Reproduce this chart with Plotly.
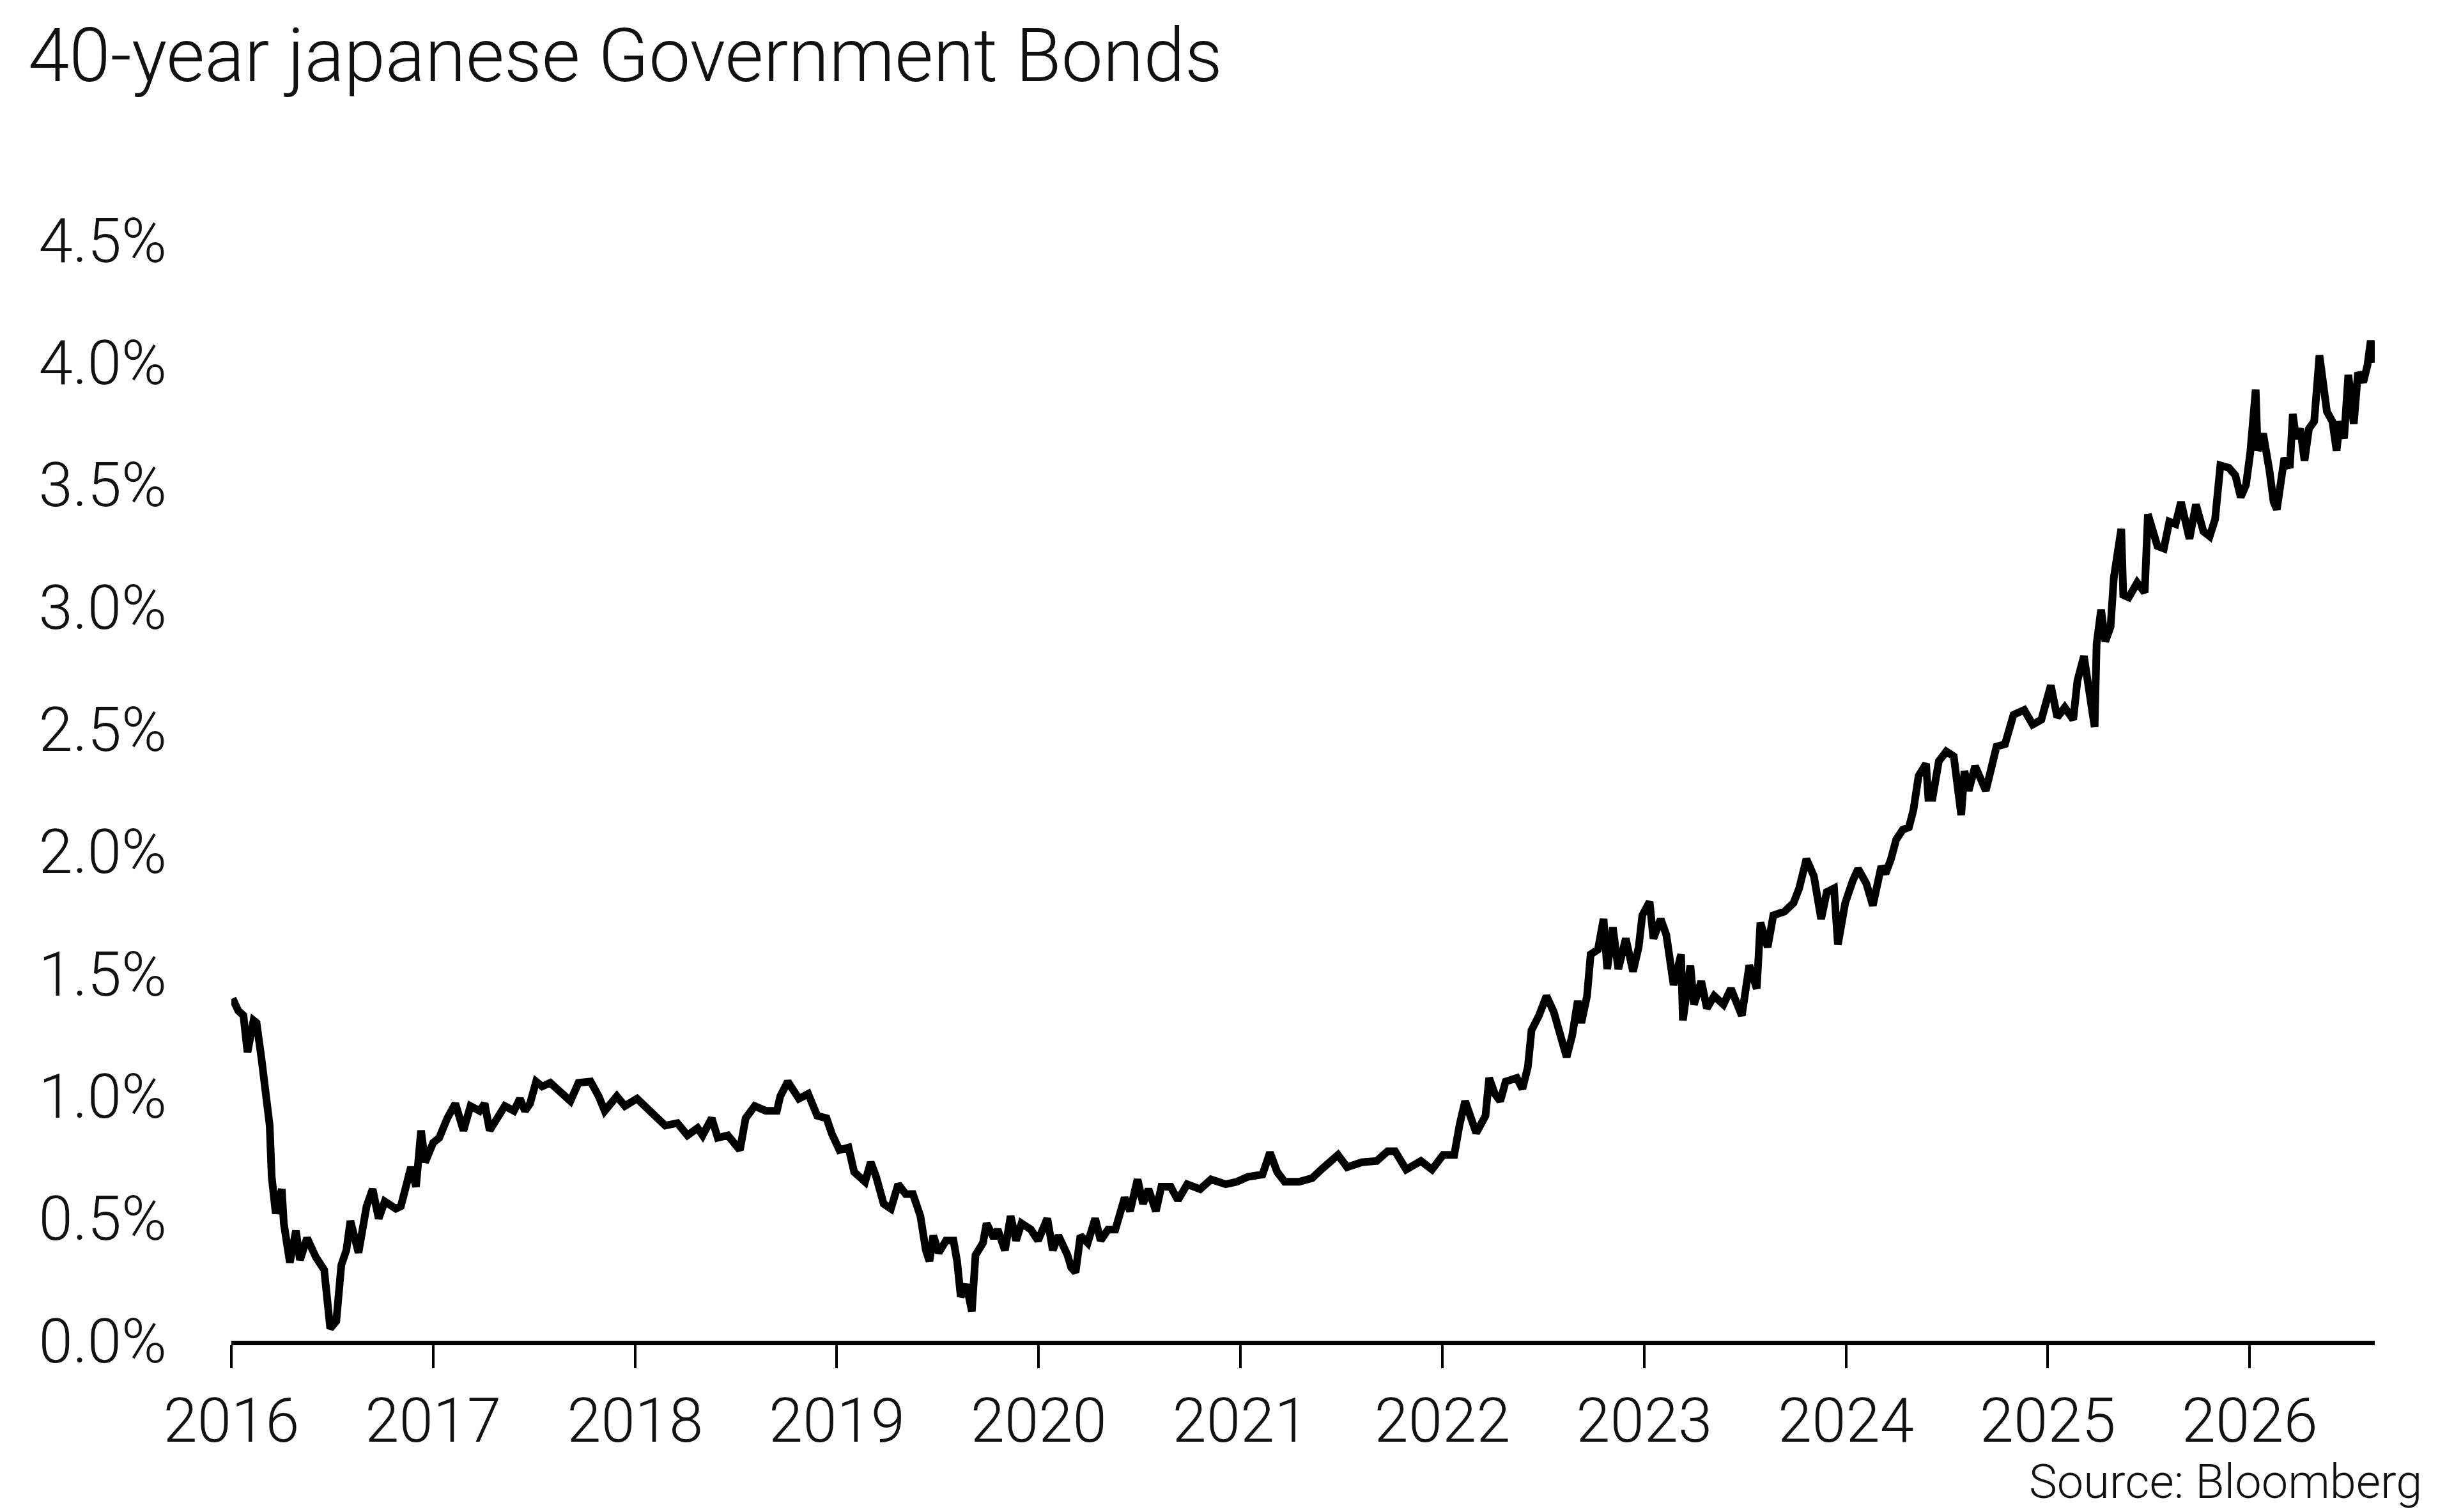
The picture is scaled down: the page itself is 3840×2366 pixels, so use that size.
import plotly.graph_objects as go

# Decimal-year dates and 40-year JGB yields (%)
years = [
    2016.006, 2016.034, 2016.06, 2016.08, 2016.11, 2016.125, 2016.15, 2016.17, 2016.19, 2016.20,
    2016.22, 2016.25, 2016.26, 2016.29, 2016.32, 2016.34, 2016.375, 2016.42, 2016.46, 2016.49,
    2016.52, 2016.545, 2016.57, 2016.59, 2016.63, 2016.67, 2016.70, 2016.73, 2016.76, 2016.815,
    2016.84, 2016.89, 2016.915, 2016.94, 2016.96, 2017.0, 2017.03, 2017.07, 2017.11, 2017.15,
    2017.185, 2017.23, 2017.255, 2017.28, 2017.33, 2017.355, 2017.40, 2017.43, 2017.455, 2017.48,
    2017.51, 2017.54, 2017.58, 2017.625, 2017.68, 2017.72, 2017.78, 2017.82, 2017.85, 2017.91,
    2017.95, 2018.01, 2018.05, 2018.09, 2018.15, 2018.21, 2018.26, 2018.31, 2018.335, 2018.38,
    2018.41, 2018.46, 2018.52,
    2018.548, 2018.593, 2018.648, 2018.703, 2018.72, 2018.757, 2018.812, 2018.858, 2018.903, 2018.949,
    2018.976, 2019.013, 2019.058, 2019.086, 2019.113, 2019.14, 2019.168, 2019.195, 2019.232, 2019.268,
    2019.304, 2019.341, 2019.377, 2019.414, 2019.441, 2019.459, 2019.478, 2019.505, 2019.541, 2019.578,
    2019.596, 2019.614, 2019.642, 2019.669, 2019.687, 2019.724, 2019.742, 2019.778, 2019.797, 2019.833,
    2019.861, 2019.888, 2019.915, 2019.961, 2019.997, 2020.043, 2020.07, 2020.098, 2020.143, 2020.161,
    2020.183, 2020.207, 2020.243, 2020.28, 2020.307, 2020.344, 2020.38, 2020.426, 2020.453, 2020.49,
    2020.517, 2020.544, 2020.581, 2020.608, 2020.654, 2020.69, 2020.736, 2020.8, 2020.854, 2020.927,
    2020.982, 2021.036, 2021.109, 2021.146, 2021.182, 2021.219,
    2021.291, 2021.355, 2021.40, 2021.483, 2021.528, 2021.601, 2021.675, 2021.729, 2021.766, 2021.821,
    2021.894, 2021.949, 2022.004, 2022.059, 2022.086, 2022.113, 2022.168, 2022.214, 2022.232, 2022.26,
    2022.287, 2022.314, 2022.369, 2022.397, 2022.424, 2022.442, 2022.479, 2022.516, 2022.552, 2022.58,
    2022.616, 2022.644, 2022.671, 2022.689, 2022.717, 2022.735, 2022.771, 2022.799, 2022.817, 2022.845,
    2022.872, 2022.909, 2022.945, 2022.973, 2022.991, 2023.027, 2023.046, 2023.082, 2023.11, 2023.146,
    2023.183, 2023.192, 2023.229, 2023.247, 2023.283, 2023.311, 2023.347, 2023.393, 2023.43, 2023.484,
    2023.521, 2023.558, 2023.576, 2023.612, 2023.64, 2023.695, 2023.74, 2023.768, 2023.804, 2023.841,
    2023.877, 2023.905, 2023.941, 2023.96, 2023.996, 2024.033, 2024.06,
    2024.101, 2024.133, 2024.175, 2024.196, 2024.223, 2024.249, 2024.281, 2024.312, 2024.334, 2024.36,
    2024.397, 2024.408, 2024.429, 2024.46, 2024.497, 2024.534, 2024.571, 2024.587, 2024.608, 2024.64,
    2024.693, 2024.746, 2024.788, 2024.83, 2024.883, 2024.925, 2024.968, 2025.015, 2025.047, 2025.084,
    2025.126, 2025.147, 2025.179, 2025.205, 2025.232,
    2025.242, 2025.264, 2025.285, 2025.311, 2025.327, 2025.337, 2025.364, 2025.374, 2025.401, 2025.443,
    2025.48, 2025.496, 2025.517, 2025.543, 2025.575, 2025.602, 2025.633, 2025.66, 2025.702, 2025.734,
    2025.771, 2025.802, 2025.829, 2025.855, 2025.897, 2025.929, 2025.956, 2025.982, 2026.003, 2026.03,
    2026.04, 2026.067, 2026.098, 2026.119, 2026.135, 2026.151, 2026.172, 2026.199, 2026.214, 2026.23,
    2026.251, 2026.272, 2026.294, 2026.32, 2026.346, 2026.362, 2026.383, 2026.41, 2026.431, 2026.447,
    2026.468, 2026.489, 2026.516, 2026.537, 2026.563, 2026.584, 2026.6, 2026.616,
]

yields = [
    1.40, 1.35, 1.33, 1.18, 1.31, 1.30, 1.15, 1.00, 0.88, 0.67,
    0.52, 0.62, 0.48, 0.32, 0.45, 0.33, 0.42, 0.34, 0.29, 0.05,
    0.08, 0.31, 0.37, 0.49, 0.36, 0.55, 0.62, 0.50, 0.57, 0.54,
    0.55, 0.71, 0.63, 0.86, 0.73, 0.81, 0.83, 0.91, 0.97, 0.86,
    0.96, 0.94, 0.97, 0.86, 0.92, 0.96, 0.94, 0.99, 0.94, 0.97,
    1.06, 1.04, 1.055, 1.02, 0.98, 1.055, 1.06, 1.00, 0.94, 1.00,
    0.96, 0.99, 0.96, 0.93, 0.88, 0.89, 0.84, 0.87, 0.84, 0.91,
    0.83, 0.84, 0.78,
    0.91, 0.96, 0.94, 0.94, 1.00, 1.06, 0.99, 1.01, 0.92, 0.91,
    0.845, 0.78, 0.79, 0.69, 0.67, 0.65, 0.73, 0.67, 0.56, 0.54,
    0.64, 0.60, 0.60, 0.51, 0.37, 0.325, 0.43, 0.36, 0.41, 0.41,
    0.325, 0.18, 0.23, 0.12, 0.35, 0.40, 0.48, 0.42, 0.455, 0.37,
    0.51, 0.41, 0.48, 0.455, 0.41, 0.50, 0.37, 0.43, 0.35, 0.30,
    0.28, 0.43, 0.40, 0.50, 0.41, 0.455, 0.455, 0.585, 0.53, 0.66,
    0.56, 0.62, 0.53, 0.63, 0.63, 0.575, 0.64, 0.62, 0.66, 0.64,
    0.65, 0.67, 0.68, 0.77, 0.69, 0.65,
    0.65, 0.665, 0.70, 0.76, 0.71, 0.73, 0.735, 0.775, 0.775, 0.70,
    0.735, 0.70, 0.76, 0.76, 0.885, 0.98, 0.85, 0.92, 1.075, 1.01,
    0.98, 1.06, 1.075, 1.03, 1.12, 1.27, 1.33, 1.41, 1.345, 1.25,
    1.16, 1.25, 1.39, 1.30, 1.41, 1.58, 1.60, 1.725, 1.52, 1.69,
    1.52, 1.645, 1.51, 1.61, 1.74, 1.795, 1.645, 1.725, 1.66, 1.455,
    1.58, 1.31, 1.535, 1.375, 1.47, 1.36, 1.41, 1.375, 1.44, 1.33,
    1.535, 1.44, 1.71, 1.61, 1.74, 1.755, 1.79, 1.85, 1.97, 1.90,
    1.725, 1.835, 1.85, 1.62, 1.79, 1.88, 1.93,
    1.87, 1.78, 1.94, 1.91, 1.97, 2.05, 2.09, 2.10, 2.17, 2.31,
    2.36, 2.22, 2.22, 2.37, 2.41, 2.39, 2.15, 2.33, 2.25, 2.35,
    2.25, 2.43, 2.44, 2.56, 2.58, 2.52, 2.54, 2.68, 2.55, 2.59,
    2.54, 2.70, 2.80, 2.67, 2.51,
    2.85, 2.99, 2.86, 2.92, 3.12, 3.17, 3.32, 3.05, 3.04, 3.10,
    3.06, 3.38, 3.31, 3.25, 3.24, 3.35, 3.34, 3.43, 3.28, 3.42,
    3.31, 3.29, 3.36, 3.58, 3.57, 3.54, 3.45, 3.50, 3.63, 3.89,
    3.64, 3.71, 3.56, 3.43, 3.40, 3.48, 3.61, 3.57, 3.79, 3.69,
    3.73, 3.60, 3.73, 3.76, 4.03, 3.93, 3.80, 3.76, 3.64, 3.76,
    3.69, 3.95, 3.75, 3.96, 3.92, 3.99, 4.09, 4.00,
]

year_ticks = [2016, 2017, 2018, 2019, 2020, 2021, 2022, 2023, 2024, 2025, 2026]
year_labels = ["2016", "2017", "2018", "2019", "2020", "2021", "2022", "2023", "2024", "2025", "2026"]
pct_ticks = [0.0, 0.5, 1.0, 1.5, 2.0, 2.5, 3.0, 3.5, 4.0, 4.5]
pct_labels = ["0.0%", "0.5%", "1.0%", "1.5%", "2.0%", "2.5%", "3.0%", "3.5%", "4.0%", "4.5%"]

FONT = "Roboto"
INK = "#111111"

W, H = 3840, 2366
ML, MR, MT, MB = 362, 124, 338, 268

fig = go.Figure()
fig.add_trace(go.Scatter(
    x=years, y=yields, mode="lines",
    line=dict(color="#000000", width=12, shape="linear"),
    hoverinfo="skip", showlegend=False,
))

fig.update_layout(
    width=W, height=H,
    margin=dict(l=ML, r=MR, t=MT, b=MB, pad=0),
    paper_bgcolor="white", plot_bgcolor="white",
    font=dict(family=FONT, color=INK, size=96, weight=300),
    title=dict(
        text="40-year japanese Government Bonds",
        font=dict(family=FONT, size=116, color=INK, weight=300),
        x=44 / W, xanchor="left", xref="container",
        y=1 - 46 / H, yanchor="top", yref="container",
    ),
    showlegend=False,
)

fig.update_xaxes(
    range=[2016, 2026.62],
    tickmode="array", tickvals=year_ticks, ticktext=year_labels,
    ticks="outside", ticklen=36, tickwidth=4, tickcolor="#000000",
    showline=True, linecolor="#000000", linewidth=7,
    showgrid=False, zeroline=False,
    tickfont=dict(family=FONT, size=96, color=INK, weight=300),
    ticklabelstandoff=0,
)

fig.update_yaxes(
    range=[0, 4.6],
    tickmode="array", tickvals=pct_ticks, ticktext=pct_labels,
    ticks="", showline=False, showgrid=False, zeroline=False,
    tickfont=dict(family=FONT, size=96, color=INK, weight=300),
    ticklabelstandoff=100,
)

fig.add_annotation(
    text="Source: Bloomberg",
    xref="paper", yref="paper",
    x=(3792 - ML) / (W - ML - MR), xanchor="right",
    y=-(2318 - (H - MB)) / (H - MT - MB), yanchor="middle",
    showarrow=False,
    font=dict(family=FONT, size=74, color=INK, weight=300),
)

fig.write_html(
    "out.html",
    config={"displayModeBar": False},
    post_script="document.body.style.margin='0';document.body.style.overflow='hidden';",
)
